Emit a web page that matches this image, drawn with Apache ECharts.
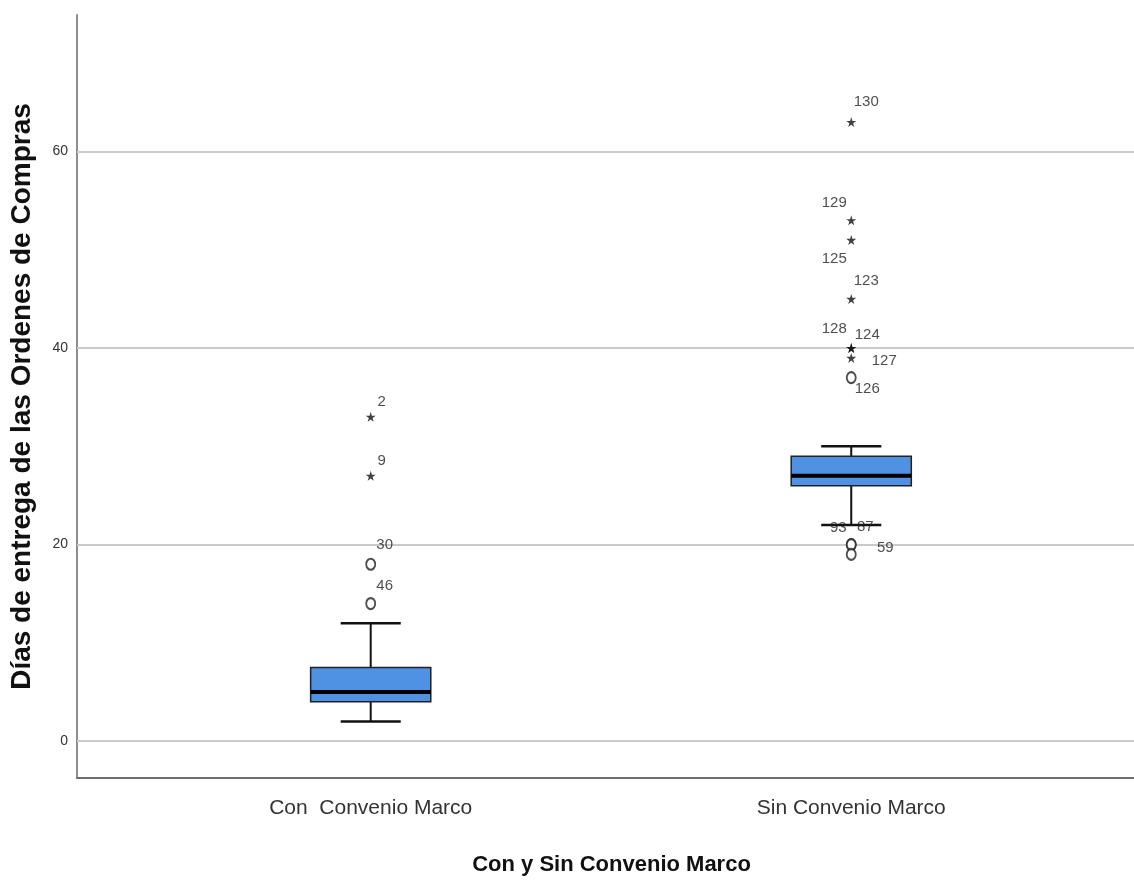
<!DOCTYPE html>
<html>
<head>
<meta charset="utf-8">
<script src="https://cdn.jsdelivr.net/npm/echarts@6/dist/echarts.min.js"></script>
<style>
html,body{margin:0;padding:0;background:#fff;}
#chart{width:1134px;height:881px;}
</style>
</head>
<body>
<div id="chart"></div>
<script>
// ---- data ----
const categories = ['Con  Convenio Marco', 'Sin Convenio Marco'];
// [min whisker, Q1, median, Q3, max whisker]
const boxCon = [2, 4, 5, 7.5, 12];
const boxSin = [22, 26, 27, 29, 30];
const yTicks = [0, 20, 40, 60];

const conOutlierValues = [33, 27, 18, 14];
const conOutlierIds = ['2', '9', '30', '46'];
const conOutlierKinds = ['extreme', 'extreme', 'outlier', 'outlier'];

const sinOutlierValues = [63, 53, 51, 45, 40, 40, 39, 37, 20, 20, 19];
const sinOutlierIds = ['130', '129', '125', '123', '128', '124', '127', '126', '93', '87', '59'];
const sinOutlierKinds = ['extreme', 'extreme', 'extreme', 'extreme', 'extreme', 'extreme', 'extreme', 'outlier', 'outlier', 'outlier', 'outlier'];

// ---- label placement (style, not data) ----
const labelOffset = {
  '2': [11, -15], '9': [11, -15], '30': [14, -19], '46': [14, -18],
  '130': [15, -20], '129': [-17, -17], '125': [-17, 19], '123': [15, -18],
  '128': [-17, -19], '124': [16, -13], '127': [33, 3], '126': [16, 11],
  '93': [-13, -17], '87': [14, -18], '59': [34, -7]
};

const STAR = 'path://M50,0 L61,35 L98,35 L68,57 L79,91 L50,70 L21,91 L32,57 L2,35 L39,35 Z';

const boxData = [[0].concat(boxCon), [1].concat(boxSin)];

function outlierPoints(xIdx, vals, ids, kinds) {
  return vals.map((v, i) => {
    const off = labelOffset[ids[i]] || [12, -15];
    const isStar = kinds[i] === 'extreme';
    return {
      value: [xIdx, v],
      name: ids[i],
      symbol: isStar ? STAR : 'emptyCircle',
      symbolSize: isStar ? 10 : [9, 11],
      itemStyle: isStar ? {color: '#111', borderWidth: 0} : {color: '#222', borderColor: '#222', borderWidth: 1.4},
      label: {offset: off}
    };
  });
}
const outlierData = outlierPoints(0, conOutlierValues, conOutlierIds, conOutlierKinds)
  .concat(outlierPoints(1, sinOutlierValues, sinOutlierIds, sinOutlierKinds));

const chart = echarts.init(document.getElementById('chart'), null, {renderer: 'canvas'});

function renderBox(params, api) {
  const x = api.value(0);
  const lo = api.value(1), q1 = api.value(2), med = api.value(3), q3 = api.value(4), hi = api.value(5);
  const c = api.coord([x, med]);
  const halfBox = (api.coord([x + 0.125, med])[0] - c[0]);
  const halfCap = halfBox / 2;
  const yLo = api.coord([x, lo])[1], yQ1 = api.coord([x, q1])[1], yMed = c[1];
  const yQ3 = api.coord([x, q3])[1], yHi = api.coord([x, hi])[1];
  const cx = c[0];
  const ls = {stroke: '#111', lineWidth: 2};
  return {
    type: 'group',
    children: [
      {type: 'line', shape: {x1: cx, y1: yQ3, x2: cx, y2: yHi}, style: ls},
      {type: 'line', shape: {x1: cx, y1: yQ1, x2: cx, y2: yLo}, style: ls},
      {type: 'line', shape: {x1: cx - halfCap, y1: yHi, x2: cx + halfCap, y2: yHi}, style: {stroke: '#111', lineWidth: 2.5}},
      {type: 'line', shape: {x1: cx - halfCap, y1: yLo, x2: cx + halfCap, y2: yLo}, style: {stroke: '#111', lineWidth: 2.5}},
      {type: 'rect', shape: {x: cx - halfBox, y: yQ3, width: halfBox * 2, height: yQ1 - yQ3}, style: {fill: '#4f91e2', stroke: '#222', lineWidth: 1.5}},
      {type: 'line', shape: {x1: cx - halfBox, y1: yMed, x2: cx + halfBox, y2: yMed}, style: {stroke: '#000', lineWidth: 4}}
    ]
  };
}

const option = {
  backgroundColor: '#ffffff',
  animation: false,
  textStyle: {fontFamily: 'Liberation Sans, Arial, sans-serif'},
  grid: {left: 76, right: 0, top: 15, bottom: 101, containLabel: false},
  xAxis: {
    type: 'value',
    min: -0.6112,
    max: 1.5884,
    splitLine: {show: false},
    axisTick: {show: false},
    axisLine: {show: true, onZero: false, lineStyle: {color: '#6e6e6e', width: 2}},
    axisLabel: {
      customValues: [0, 1],
      formatter: v => categories[Math.round(v)] || '',
      color: '#333', fontSize: 21, margin: 20,
      fontFamily: 'Liberation Sans, Arial, sans-serif'
    },
    name: 'Con y Sin Convenio Marco',
    nameLocation: 'middle',
    nameGap: 76,
    nameTextStyle: {fontSize: 22, fontWeight: 'bold', color: '#111', padding: [0, 0, 0, 12], fontFamily: 'Liberation Sans, Arial, sans-serif'}
  },
  yAxis: {
    type: 'value',
    min: -3.756,
    max: 73.9,
    splitLine: {show: false},
    axisTick: {show: false},
    axisLine: {show: true, onZero: false, lineStyle: {color: '#8e8e8e', width: 2}},
    axisLabel: {
      customValues: yTicks,
      color: '#333', fontSize: 14, margin: 9,
      fontFamily: 'Liberation Sans, Arial, sans-serif'
    },
    name: 'Días de entrega de las Ordenes de Compras',
    nameLocation: 'middle',
    nameRotate: 90,
    nameGap: 41,
    nameTextStyle: {fontSize: 28, fontWeight: 'bold', color: '#111', fontFamily: 'Liberation Sans, Arial, sans-serif'}
  },
  series: [
    {
      type: 'custom',
      name: 'box',
      z: 3,
      renderItem: renderBox,
      encode: {x: 0, y: [1, 2, 3, 4, 5]},
      data: boxData,
      markLine: {
        silent: true,
        z: 1,
        symbol: 'none',
        label: {show: false},
        lineStyle: {color: '#cacaca', width: 2, type: 'solid'},
        emphasis: {disabled: true},
        data: yTicks.map(t => ({yAxis: t}))
      }
    },
    {
      type: 'scatter',
      name: 'outliers',
      z: 4,
      data: outlierData,
      label: {
        show: true,
        position: 'inside',
        formatter: p => p.name,
        color: '#222',
        fontSize: 15,
        fontFamily: 'Liberation Sans, Arial, sans-serif'
      },
      emphasis: {disabled: true}
    }
  ]
};
chart.setOption(option);
</script>
</body>
</html>
